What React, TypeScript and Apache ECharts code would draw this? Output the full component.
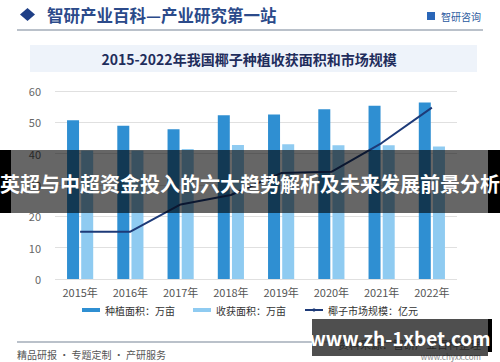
import React, { useEffect, useRef } from "react";
import * as echarts from "echarts";

const years = ["2015年", "2016年", "2017年", "2018年", "2019年", "2020年", "2021年", "2022年"];
const plantingArea = [50.7, 48.9, 47.8, 52.3, 52.5, 54.2, 55.3, 56.3];
const harvestArea = [41.0, 41.0, 41.5, 42.8, 43.0, 42.7, 42.7, 42.3];
const marketSize = [15.1, 15.1, 23.8, 26.8, 33.8, 34.2, 43.4, 54.7];
const seriesNames = ["种植面积：万亩", "收获面积：万亩", "椰子市场规模：亿元"];

export default function App() {
  const ref = useRef<HTMLDivElement>(null);
  useEffect(() => {
    if (!ref.current) return;
    const chart = echarts.init(ref.current, null, { renderer: "svg" });
    const cjk = '"Noto Sans CJK SC", "Noto Sans", sans-serif';
    chart.setOption({
      animation: false,
      backgroundColor: "#ffffff",
      textStyle: { fontFamily: cjk },
      grid: { left: 55, right: 43, top: 91, bottom: 83 },
      xAxis: {
        type: "category",
        data: years,
        axisLine: { show: false },
        axisTick: { show: false },
        axisLabel: { color: "#555", fontSize: 11, margin: 7, fontFamily: cjk },
      },
      yAxis: {
        type: "value",
        min: 0,
        max: 60,
        interval: 10,
        axisLine: { show: false },
        axisTick: { show: false },
        axisLabel: { color: "#666", fontSize: 11, margin: 14, fontFamily: cjk },
        splitLine: { lineStyle: { color: "#e0e0e0", width: 1 } },
      },
      legend: {
        top: 300,
        left: "center",
        itemGap: 18,
        itemWidth: 18,
        itemHeight: 4,
        textStyle: { color: "#333", fontSize: 10, fontFamily: cjk },
        data: [
          { name: seriesNames[0], icon: "rect" },
          { name: seriesNames[1], icon: "rect" },
          { name: seriesNames[2] },
        ],
      },
      series: [
        {
          name: seriesNames[0],
          type: "bar",
          data: plantingArea,
          barWidth: 12,
          barGap: "18%",
          itemStyle: { color: "#2f8fd2" },
        },
        {
          name: seriesNames[1],
          type: "bar",
          data: harvestArea,
          barWidth: 12,
          itemStyle: { color: "#8fcbf1" },
        },
        {
          name: seriesNames[2],
          type: "line",
          data: marketSize,
          symbol: "none",
          lineStyle: { color: "#1d3a78", width: 2 },
          itemStyle: { color: "#1d3a78" },
        },
      ],
      graphic: [
        {
          type: "polygon",
          shape: { points: [[27.5, 8], [35, 14.5], [27.5, 21], [20, 14.5]] },
          style: { fill: "#1f3f86" },
        },
        {
          type: "text",
          x: 47,
          y: 15,
          style: {
            text: "智研产业百科—产业研究第一站",
            fill: "#2b4a8a",
            font: `bold 16.5px ${cjk}`,
            verticalAlign: "middle",
          },
        },
        {
          type: "rect",
          shape: { x: 427, y: 12, width: 8, height: 8 },
          style: { fill: "#2a66b8" },
        },
        {
          type: "text",
          x: 441,
          y: 16,
          style: {
            text: "智研咨询",
            fill: "#2a5aa0",
            font: `10px ${cjk}`,
            verticalAlign: "middle",
          },
        },
        {
          type: "line",
          shape: { x1: 17, y1: 30, x2: 483, y2: 30 },
          style: { stroke: "#a3acb9", lineWidth: 1.5 },
        },
        {
          type: "rect",
          shape: { x: 30, y: 45, width: 447, height: 27 },
          style: { fill: "#eef3fa" },
        },
        {
          type: "text",
          x: 249,
          y: 58.5,
          style: {
            text: "2015-2022年我国椰子种植收获面积和市场规模",
            fill: "#1f2d5c",
            font: `bold 14px ${cjk}`,
            align: "center",
            verticalAlign: "middle",
          },
        },
        {
          type: "line",
          shape: { x1: 17, y1: 342, x2: 483, y2: 342 },
          style: { stroke: "#a3acb9", lineWidth: 1.5 },
        },
        {
          type: "text",
          x: 17,
          y: 354,
          style: {
            text: "精品研报 · 专题定制 · 产研服务",
            fill: "#555",
            font: `10px ${cjk}`,
            verticalAlign: "middle",
          },
        },
        {
          type: "text",
          x: 481,
          y: 344,
          style: {
            text: "资料来源：智研产业百科整理",
            fill: "#555",
            font: `11px ${cjk}`,
            align: "right",
            verticalAlign: "middle",
          },
        },
        {
          type: "text",
          x: 481,
          y: 356,
          style: {
            text: "www.chyxx.com",
            fill: "#888",
            font: `8px ${cjk}`,
            align: "right",
            verticalAlign: "middle",
          },
        },
        {
          type: "rect",
          z: 100,
          shape: { x: 0, y: 150, width: 11, height: 63 },
          style: { fill: "#000" },
        },
        {
          type: "rect",
          z: 100,
          shape: { x: 488, y: 150, width: 12, height: 63 },
          style: { fill: "#000" },
        },
        {
          type: "rect",
          z: 100,
          shape: { x: 11, y: 150, width: 477, height: 63 },
          style: { fill: "rgba(0,0,0,0.6)" },
        },
        {
          type: "text",
          z: 101,
          x: 250,
          y: 183,
          style: {
            text: "英超与中超资金投入的六大趋势解析及未来发展前景分析",
            fill: "#ffffff",
            font: `bold 20px ${cjk}`,
            align: "center",
            verticalAlign: "middle",
          },
        },
        {
          type: "rect",
          z: 100,
          shape: { x: 312, y: 319, width: 176, height: 37 },
          style: { fill: "rgba(30,30,30,0.78)" },
        },
        {
          type: "rect",
          z: 100,
          shape: { x: 488, y: 319, width: 4, height: 33 },
          style: { fill: "#000" },
        },
        {
          type: "text",
          z: 101,
          x: 400,
          y: 337,
          style: {
            text: "www.zh-1xbet.com",
            fill: "#ffffff",
            font: `bold 19px ${cjk}`,
            align: "center",
            verticalAlign: "middle",
          },
        },
      ],
    });
    return () => chart.dispose();
  }, []);
  return (
    <div
      ref={ref}
      style={{ position: "absolute", left: 0, top: 0, width: 500, height: 362 }}
    />
  );
}
